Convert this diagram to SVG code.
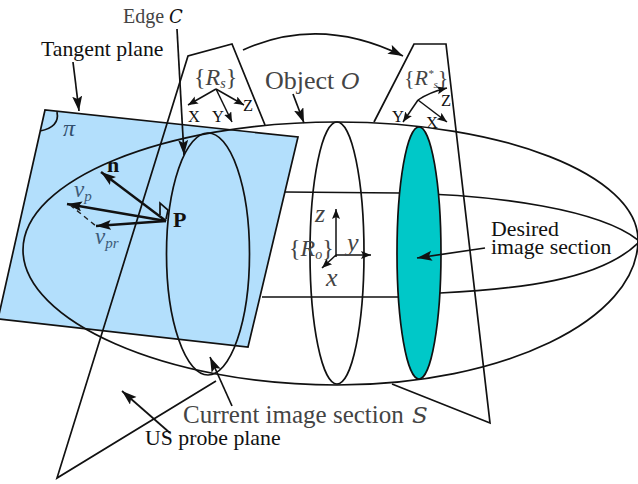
<svg xmlns="http://www.w3.org/2000/svg" width="638" height="484" viewBox="0 0 638 484">
<style>
  .ln { fill: none; stroke: #111; stroke-width: 1.7; }
  .ar { fill: none; stroke: #111; stroke-width: 1.7; marker-end: url(#tip); }
  .vec { fill: none; stroke: #111; stroke-width: 2.4; marker-end: url(#tip); }
  .thin { fill: none; stroke: #111; stroke-width: 1.5; marker-end: url(#tipS); }
  text { font-family: "Liberation Serif", "Times New Roman", serif; fill: #111; }
  .lab { font-size: 21.8px; }
  .grey { fill: #444; }
  .blue { fill: #3d5a78; font-style: italic; }
  .it { font-style: italic; }
  .cal { font-family: "DejaVu Serif", serif; font-style: italic; }
  .axis { font-size: 16.5px; }
</style>
<defs>
  <marker id="tip" markerUnits="userSpaceOnUse" markerWidth="18" markerHeight="12" refX="15" refY="5" orient="auto">
    <path d="M0 0 L15 5 L0 10 L3 5 Z" fill="#111"/>
  </marker>
  <marker id="tipS" markerUnits="userSpaceOnUse" markerWidth="12" markerHeight="10" refX="10" refY="4" orient="auto">
    <path d="M0 0 L10 4 L0 8 L2 4 Z" fill="#111"/>
  </marker>
</defs>
<rect width="638" height="484" fill="#fff"/>

<g id="tangent-plane">
  <path d="M45 110 L298 137 L248 347 L-2 319 Z" fill="#b3dffc"/>
  <path class="ln" d="M-2 319 L248 347 L298 137 L45 110 L-2 319"/>
  <path class="ln" d="M57 112 Q60 127 40 131"/>
  <text x="63" y="136" font-size="24" class="blue" style="fill:#33506e">π</text>
</g>

<g id="object">
  <path class="ln" d="M23 250 C23 180 164 122 337 122 C503 122 638 175 638 240 C638 320 503 385 337 385 C164 385 23 320 23 250 Z"/>
  <path class="ln" d="M285 192 L400 193 C500 195 600 210 638 240"/>
  <path class="ln" d="M262 297 L398 297 L440 293 C520 289 600 280 638 243"/>
  <text x="265" y="89" class="grey" font-size="26">Object</text>
  <text x="341" y="89" class="cal grey" font-size="23">O</text>
</g>

<g id="object-frame">
  <ellipse class="ln" cx="337" cy="253" rx="27" ry="131"/>
  <path class="thin" d="M336 257 V209"/>
  <path class="thin" d="M336 255 H371"/>
  <path class="thin" d="M336 255 L322 268"/>
  <text x="315" y="222" font-size="26" class="it grey">z</text>
  <text x="347" y="251" font-size="26" class="it grey">y</text>
  <text x="326" y="286" font-size="26" class="it grey">x</text>
  <text x="289" y="256" font-size="24" class="grey">{<tspan class="it">R</tspan><tspan class="it" font-size="14" dy="3">o</tspan><tspan dy="-3">}</tspan></text>
</g>

<g id="current-probe">
  <path class="ln" d="M216 381 L57 478 L188 56 L232 44 L265 125"/>
  <text x="194" y="85" font-size="24" class="grey">{<tspan class="it">R</tspan><tspan class="it" font-size="14" dy="3">s</tspan><tspan dy="-3">}</tspan></text>
  <path class="thin" d="M216 89 L188 105"/>
  <path class="thin" d="M216 89 L232 122"/>
  <path class="thin" d="M216 89 L244 105"/>
  <text x="188" y="122" class="axis">X</text>
  <text x="212" y="122" class="axis">Y</text>
  <text x="243" y="111" class="axis">Z</text>
</g>

<g id="desired-probe">
  <path class="ln" d="M374 122 L414 44 L446 44 L490 423 L392 384"/>
  <text x="404" y="85" font-size="22" class="grey">{<tspan class="it">R</tspan><tspan class="it" font-size="11" dy="-8">*</tspan><tspan class="it" font-size="11" dy="11">s</tspan><tspan dy="-3">}</tspan></text>
  <path class="thin" d="M418 100 L403 122"/>
  <path class="thin" d="M418 100 Q430 92 447 88"/>
  <path class="thin" d="M418 100 L447 122"/>
  <text x="392" y="122" class="axis">Y</text>
  <text x="426" y="128" class="axis">X</text>
  <text x="441" y="106" class="axis">Z</text>
</g>

<g id="current-section">
  <ellipse class="ln" cx="208" cy="254" rx="41.5" ry="121"/>
  <text x="183" y="423" font-size="25" class="grey">Current image section</text>
  <text x="412" y="423" font-size="23" class="cal grey">S</text>
</g>

<g id="desired-section">
  <ellipse cx="419" cy="253" rx="22" ry="126" fill="#00c8c8" stroke="#111" stroke-width="1.7"/>
  <text x="491" y="236" class="lab">Desired</text>
  <text x="491" y="254" class="lab">image section</text>
</g>

<g id="point-p">
  <path class="ln" d="M160 215 L160 203 L168 210 L166 219"/>
  <text x="173" y="227" font-size="22" font-weight="bold">P</text>
  <text x="107" y="172" font-size="22" font-weight="bold">n</text>
  <text x="74" y="197" font-size="23" class="blue">v<tspan font-size="15" dy="4">p</tspan></text>
  <text x="95" y="244" font-size="23" class="blue">v<tspan font-size="15" dy="4">pr</tspan></text>
</g>

<g id="connectors">
  <path class="vec" d="M166 221 L101 172"/>
  <path class="vec" d="M166 221 L67 204"/>
  <path class="vec" d="M166 221 L96 226"/>
  <path fill="none" stroke="#222" stroke-width="1.4" stroke-dasharray="5 4" d="M70 205 L96 226"/>
  <path class="ar" d="M73 62 L79 111"/>
  <path class="ar" d="M177 29 L184 155"/>
  <path class="ar" d="M293 94 L304 123"/>
  <path class="ar" d="M243 50 Q320 15 403 56"/>
  <path class="ar" d="M485 248 L417 258"/>
  <path class="ar" d="M232 406 L210 357"/>
  <path class="ar" d="M170 433 L122 391"/>
</g>

<text x="123" y="23" font-size="20" class="grey">Edge</text>
<text x="169" y="23" font-size="18" class="cal">C</text>
<text x="41" y="56" class="lab">Tangent plane</text>
<text x="145" y="445" class="lab">US probe plane</text>
</svg>
